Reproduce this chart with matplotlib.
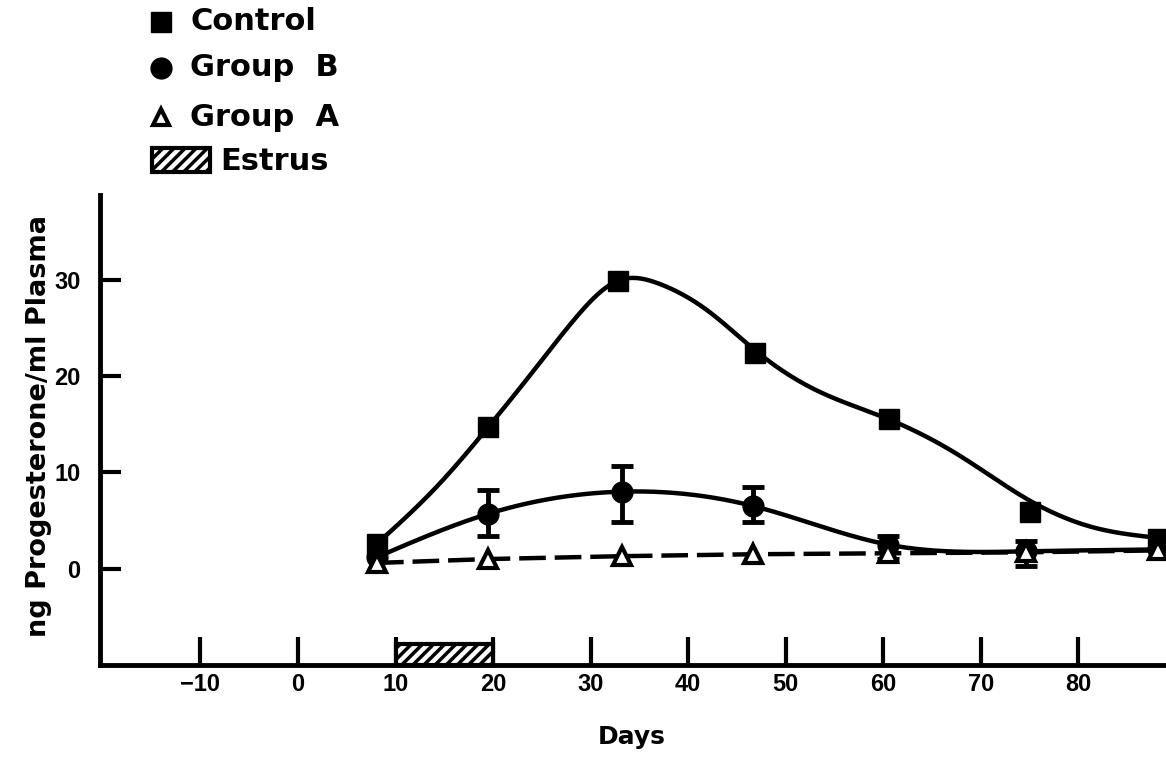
import numpy as np
import matplotlib.pyplot as plt
from matplotlib.patches import Rectangle
from matplotlib import font_manager

# 数据
control_days = [8.1, 19.5, 32.8, 46.9, 60.6, 75.1, 88.2]
control_vals = [2.6, 14.7, 29.9, 22.4, 15.5, 5.9, 3.1]
# 平滑曲线（从图中沿曲线读取）
control_curve_days = [8.1, 14.3, 19.5, 24.5, 28.6, 32.8, 37.0, 42.0, 47.2, 53.0,
                      60.6, 67.9, 74.8, 81.5, 88.2]
control_curve_vals = [2.6, 8.6, 14.7, 21.0, 26.2, 29.9, 29.6, 26.8, 22.4, 18.6,
                      15.5, 11.7, 7.2, 4.3, 3.2]

groupb_days = [8.1, 19.5, 33.2, 46.7, 60.5, 74.6, 88.2]
groupb_vals = [1.2, 5.7, 8.0, 6.5, 2.5, 1.8, 2.0]
groupb_lo = [0.0, 2.3, 3.1, 1.6, 1.5, 1.5, 0.0]
groupb_hi = [0.0, 2.5, 2.7, 2.0, 0.9, 1.1, 0.0]

groupa_days = [8.1, 19.5, 33.2, 46.7, 60.5, 74.6, 88.2]
groupa_vals = [0.6, 1.0, 1.3, 1.5, 1.6, 1.7, 1.9]

estrus_days = [10, 20]

xticks = [-10, 0, 10, 20, 30, 40, 50, 60, 70, 80]
yticks = [0, 10, 20, 30]


def natural_spline(x, y, n=400):
    """自然三次样条，用于画平滑曲线"""
    x = np.asarray(x, float)
    y = np.asarray(y, float)
    k = len(x)
    h = np.diff(x)
    A = np.zeros((k, k))
    b = np.zeros(k)
    A[0, 0] = A[-1, -1] = 1
    for i in range(1, k - 1):
        A[i, i - 1] = h[i - 1]
        A[i, i] = 2 * (h[i - 1] + h[i])
        A[i, i + 1] = h[i]
        b[i] = 6 * ((y[i + 1] - y[i]) / h[i] - (y[i] - y[i - 1]) / h[i - 1])
    M = np.linalg.solve(A, b)
    xs = np.linspace(x[0], x[-1], n)
    idx = np.clip(np.searchsorted(x, xs) - 1, 0, k - 2)
    x0, x1 = x[idx], x[idx + 1]
    hh = x1 - x0
    t0 = x1 - xs
    t1 = xs - x0
    ys = (M[idx] * t0 ** 3 + M[idx + 1] * t1 ** 3) / (6 * hh) \
        + (y[idx] / hh - M[idx] * hh / 6) * t0 \
        + (y[idx + 1] / hh - M[idx + 1] * hh / 6) * t1
    return xs, ys


installed = {f.name for f in font_manager.fontManager.ttflist}
tick_family = 'Liberation Sans Narrow' if 'Liberation Sans Narrow' in installed else 'Liberation Sans'

plt.rcParams['font.family'] = ['DejaVu Sans']
plt.rcParams['font.weight'] = 'bold'
plt.rcParams['hatch.linewidth'] = 2.5

fig = plt.figure(figsize=(11.66, 7.58), dpi=100)
ax = fig.add_axes([0.0858, 0.1227, 0.9142, 0.62])

# Control
xs, ys = natural_spline(control_curve_days, control_curve_vals)
ax.plot(xs, ys, color='black', lw=3.2, zorder=3)
ax.plot(control_days, control_vals, 's', color='black', ms=15, zorder=4)

# Group B（只给有误差的点画误差线）
xs, ys = natural_spline(groupb_days, groupb_vals)
ax.plot(xs, ys, color='black', lw=3.2, zorder=3)
ax.plot(groupb_days, groupb_vals, 'o', color='black', ms=15, zorder=4)
has_err = [i for i in range(len(groupb_days)) if groupb_lo[i] > 0 or groupb_hi[i] > 0]
ax.errorbar([groupb_days[i] for i in has_err], [groupb_vals[i] for i in has_err],
            yerr=[[groupb_lo[i] for i in has_err], [groupb_hi[i] for i in has_err]],
            fmt='none', ecolor='black', elinewidth=3.5, capsize=8, capthick=3.5,
            zorder=4)

# Group A
ax.plot(groupa_days, groupa_vals, color='black', lw=3.2, ls=(0, (6, 2)), zorder=2)
ax.plot(groupa_days, groupa_vals, '^', color='black', mfc='white', mew=3,
        ms=13, zorder=5)

# Estrus
ax.add_patch(Rectangle((estrus_days[0], -10), estrus_days[1] - estrus_days[0], 2.2,
                       facecolor='white', edgecolor='black', lw=3, hatch='///',
                       zorder=3, clip_on=False))

ax.set_xlim(-20.3, 89)
ax.set_ylim(-10, 38.8)
ax.set_xticks(xticks)
ax.set_yticks(yticks)
ax.tick_params(axis='both', direction='in', width=3)
ax.tick_params(axis='x', length=20, pad=6)
ax.tick_params(axis='y', length=15, pad=14)
for lab in ax.get_xticklabels() + ax.get_yticklabels():
    lab.set_family(tick_family)
    lab.set_fontsize(17)
    lab.set_fontweight('bold')
for s in ['top', 'right']:
    ax.spines[s].set_visible(False)
for s in ['left', 'bottom']:
    ax.spines[s].set_linewidth(3.5)

ax.set_xlabel('Days', fontsize=18, fontweight='bold')
ax.xaxis.set_label_coords(0.499, -0.128)
ax.set_ylabel('ng Progesterone/ml Plasma', fontsize=19.5, fontweight='bold')
ax.yaxis.set_label_coords(-0.045, 0.509)

# 图例（手动绘制在坐标轴上方）
fx = fig.transFigure
fig.lines.append(plt.Line2D([161 / 1166], [1 - 22 / 758], marker='s', color='black',
                            ms=15, transform=fx))
fig.lines.append(plt.Line2D([161 / 1166], [1 - 68 / 758], marker='o', color='black',
                            ms=15, transform=fx))
fig.lines.append(plt.Line2D([161 / 1166], [1 - 117 / 758], marker='^', color='black',
                            mfc='white', mew=3, ms=12, transform=fx))
fig.patches.append(Rectangle((152 / 1166, 1 - 172 / 758), 58 / 1166, 24 / 758,
                             facecolor='white', edgecolor='black', lw=3, hatch='///',
                             transform=fx))
for label, y, x in [('Control', 22, 190), ('Group  B', 68, 190),
                    ('Group  A', 118, 190), ('Estrus', 162, 220)]:
    fig.text(x / 1166, 1 - y / 758, label, fontsize=22, fontweight='bold',
             va='center', ha='left')

fig.savefig('out.png', dpi=100)
